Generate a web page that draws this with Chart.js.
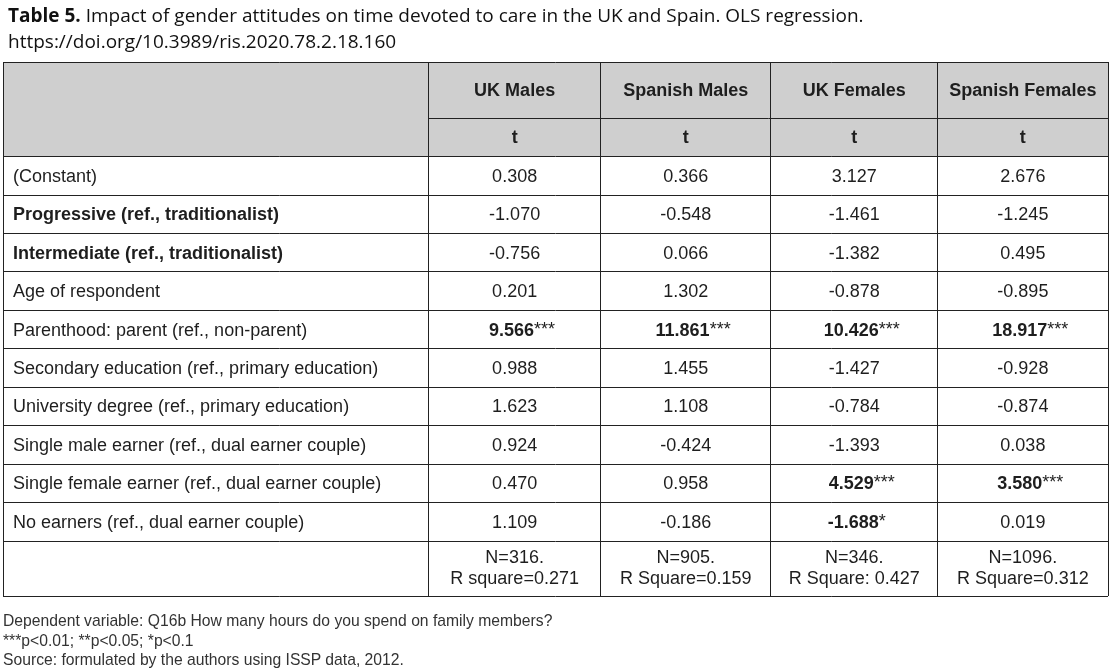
<!DOCTYPE html>
<html>
<head>
<meta charset="utf-8">
<script src="https://cdn.jsdelivr.net/npm/chart.js@4.4.1/dist/chart.umd.min.js"></script>
<style>
  html, body { margin: 0; padding: 0; background: #fff; }
  #wrap { position: relative; width: 1113px; height: 670px; }
  #title {
    position: absolute; left: 8px; top: 2px;
    font-family: "Open Sans", sans-serif; font-size: 19px; line-height: 26px; color: #111;
    white-space: nowrap;
  }
  #notes {
    position: absolute; left: 3px; top: 611px;
    font-family: "Liberation Sans", Arial, sans-serif; font-size: 15.7px; line-height: 19.5px; color: #333;
    white-space: nowrap;
  }
  #box { position: absolute; left: 0; top: 0; width: 1113px; height: 670px; }
</style>
</head>
<body>
<div id="wrap">
  <div id="box"><canvas id="table"></canvas></div>
  <div id="title"><b>Table 5.</b> Impact of gender attitudes on time devoted to care in the UK and Spain. OLS regression.<br>https://doi.org/10.3989/ris.2020.78.2.18.160</div>
  <div id="notes">Dependent variable: Q16b How many hours do you spend on family members?<br>***p&lt;0.01; **p&lt;0.05; *p&lt;0.1<br>Source: formulated by the authors using ISSP data, 2012.</div>
</div>
<script>
// Table data
const columns = ["UK Males", "Spanish Males", "UK Females", "Spanish Females"];
const subHeader = "t";
const rowLabels = [
    "(Constant)",
    "Progressive (ref., traditionalist)",
    "Intermediate (ref., traditionalist)",
    "Age of respondent",
    "Parenthood: parent (ref., non-parent)",
    "Secondary education (ref., primary education)",
    "University degree (ref., primary education)",
    "Single male earner (ref., dual earner couple)",
    "Single female earner (ref., dual earner couple)",
    "No earners (ref., dual earner couple)"
];
const ukMales = [0.308, -1.070, -0.756, 0.201, 9.566, 0.988, 1.623, 0.924, 0.470, 1.109];
const spanishMales = [0.366, -0.548, 0.066, 1.302, 11.861, 1.455, 1.108, -0.424, 0.958, -0.186];
const ukFemales = [3.127, -1.461, -1.382, -0.878, 10.426, -1.427, -0.784, -1.393, 4.529, -1.688];
const spanishFemales = [2.676, -1.245, 0.495, -0.895, 18.917, -0.928, -0.874, 0.038, 3.580, 0.019];
const ukMalesSig = ["", "", "", "", "***", "", "", "", "", ""];
const spanishMalesSig = ["", "", "", "", "***", "", "", "", "", ""];
const ukFemalesSig = ["", "", "", "", "***", "", "", "", "***", "*"];
const spanishFemalesSig = ["", "", "", "", "***", "", "", "", "***", ""];
const sampleN = ["N=316.", "N=905.", "N=346.", "N=1096."];
const rSquare = ["R square=0.271", "R Square=0.159", "R Square: 0.427", "R Square=0.312"];

const seriesValues = [ukMales, spanishMales, ukFemales, spanishFemales];
const seriesSig = [ukMalesSig, spanishMalesSig, ukFemalesSig, spanishFemalesSig];

// Layout of the grid (in axis units)
const colWidths = [2.5, 1.01, 1.0, 0.98, 1.0];
const rowHeights = [1.46, 1.0, ...rowLabels.map(() => 1), 1.43];
const cumulate = arr => arr.reduce((acc, w) => { acc.push(acc[acc.length - 1] + w); return acc; }, [0]);
const xEdges = cumulate(colWidths);
const yEdges = cumulate(rowHeights);
const mid = (edges, i) => (edges[i] + edges[i + 1]) / 2;

const FONT = '"Liberation Sans", Arial, sans-serif';
const SIZE = '18px ';
const INK = '#1e1e1e';
const boldRows = [1, 2];

const tablePlugin = {
    id: 'tableCells',
    beforeDraw(chart) {
        // Header background
        const { ctx, scales: { x, y } } = chart;
        ctx.save();
        ctx.fillStyle = '#cfcfcf';
        const x0 = x.getPixelForValue(xEdges[0]);
        const x1 = x.getPixelForValue(xEdges[xEdges.length - 1]);
        const y0 = y.getPixelForValue(yEdges[0]);
        const y1 = y.getPixelForValue(yEdges[2]);
        ctx.fillRect(x0, y0, x1 - x0, y1 - y0);
        ctx.restore();
    },
    afterDatasetsDraw(chart) {
        const { ctx, scales: { x, y } } = chart;
        ctx.save();
        // split line between header rows, only over the value columns
        const ys = Math.round(y.getPixelForValue(yEdges[1])) + 0.5;
        ctx.strokeStyle = '#222';
        ctx.lineWidth = 1;
        ctx.beginPath();
        ctx.moveTo(x.getPixelForValue(xEdges[1]), ys);
        ctx.lineTo(x.getPixelForValue(xEdges[xEdges.length - 1]), ys);
        ctx.stroke();

        ctx.fillStyle = INK;
        ctx.textBaseline = 'middle';

        // header texts
        ctx.textAlign = 'center';
        ctx.font = 'bold ' + SIZE + FONT;
        columns.forEach((name, c) => {
            const cx = x.getPixelForValue(mid(xEdges, c + 1));
            ctx.fillText(name, cx, y.getPixelForValue(mid(yEdges, 0)) + 1);
            ctx.fillText(subHeader, cx, y.getPixelForValue(mid(yEdges, 1)) + 1);
        });

        // row labels
        ctx.textAlign = 'left';
        rowLabels.forEach((label, r) => {
            ctx.font = (boldRows.includes(r) ? 'bold ' : '') + SIZE + FONT;
            ctx.fillText(label, x.getPixelForValue(xEdges[0]) + 10, y.getPixelForValue(mid(yEdges, r + 2)) + 1);
        });

        // values from dataset points
        chart.data.datasets.forEach((ds, c) => {
            const meta = chart.getDatasetMeta(c);
            meta.data.forEach((pt, r) => {
                const raw = ds.data[r];
                if (raw.kind === 'fit') {
                    ctx.font = SIZE + FONT;
                    ctx.textAlign = 'center';
                    ctx.fillText(raw.n, pt.x, pt.y - 10);
                    ctx.fillText(raw.r, pt.x, pt.y + 11);
                    return;
                }
                const num = raw.v.toFixed(3);
                const stars = raw.sig;
                ctx.textAlign = 'left';
                ctx.font = SIZE + FONT;
                const wStar = stars ? ctx.measureText(stars).width : 0;
                ctx.font = (stars ? 'bold ' : '') + SIZE + FONT;
                const wNum = ctx.measureText(num).width;
                const start = pt.x - wNum / 2 - wStar * 0.15;
                ctx.fillText(num, start, pt.y + 1);
                if (stars) {
                    ctx.font = SIZE + FONT;
                    ctx.fillText(stars, start + wNum, pt.y);
                }
            });
        });
        ctx.restore();
    }
};

const datasets = columns.map((name, c) => ({
    label: name,
    data: seriesValues[c].map((v, r) => ({
        x: mid(xEdges, c + 1), y: mid(yEdges, r + 2), v: v, sig: seriesSig[c][r]
    })).concat([{
        x: mid(xEdges, c + 1), y: mid(yEdges, rowHeights.length - 1), kind: 'fit', n: sampleN[c], r: rSquare[c]
    }]),
    pointRadius: 0,
    pointHoverRadius: 0,
    showLine: false
}));

const gridScale = (edges, extra) => Object.assign({
    type: 'linear',
    min: edges[0],
    max: edges[edges.length - 1],
    afterBuildTicks: scale => { scale.ticks = edges.map(v => ({ value: v })); },
    ticks: { display: false },
    border: { display: false },
    grid: { color: '#222', lineWidth: 1, drawTicks: false }
}, extra);

new Chart(document.getElementById('table'), {
    type: 'scatter',
    data: { datasets },
    options: {
        responsive: true,
        maintainAspectRatio: false,
        animation: false,
        events: [],
        layout: { padding: { left: 3, right: 5, top: 62, bottom: 74 } },
        plugins: { legend: { display: false }, tooltip: { enabled: false } },
        scales: {
            x: gridScale(xEdges),
            y: gridScale(yEdges, {
                reverse: true,
                grid: {
                    drawTicks: false,
                    lineWidth: 1,
                    color: ctx => (ctx.tick && ctx.tick.value === yEdges[1]) ? 'rgba(0,0,0,0)' : '#222'
                }
            })
        }
    },
    plugins: [tablePlugin]
});
</script>
</body>
</html>
